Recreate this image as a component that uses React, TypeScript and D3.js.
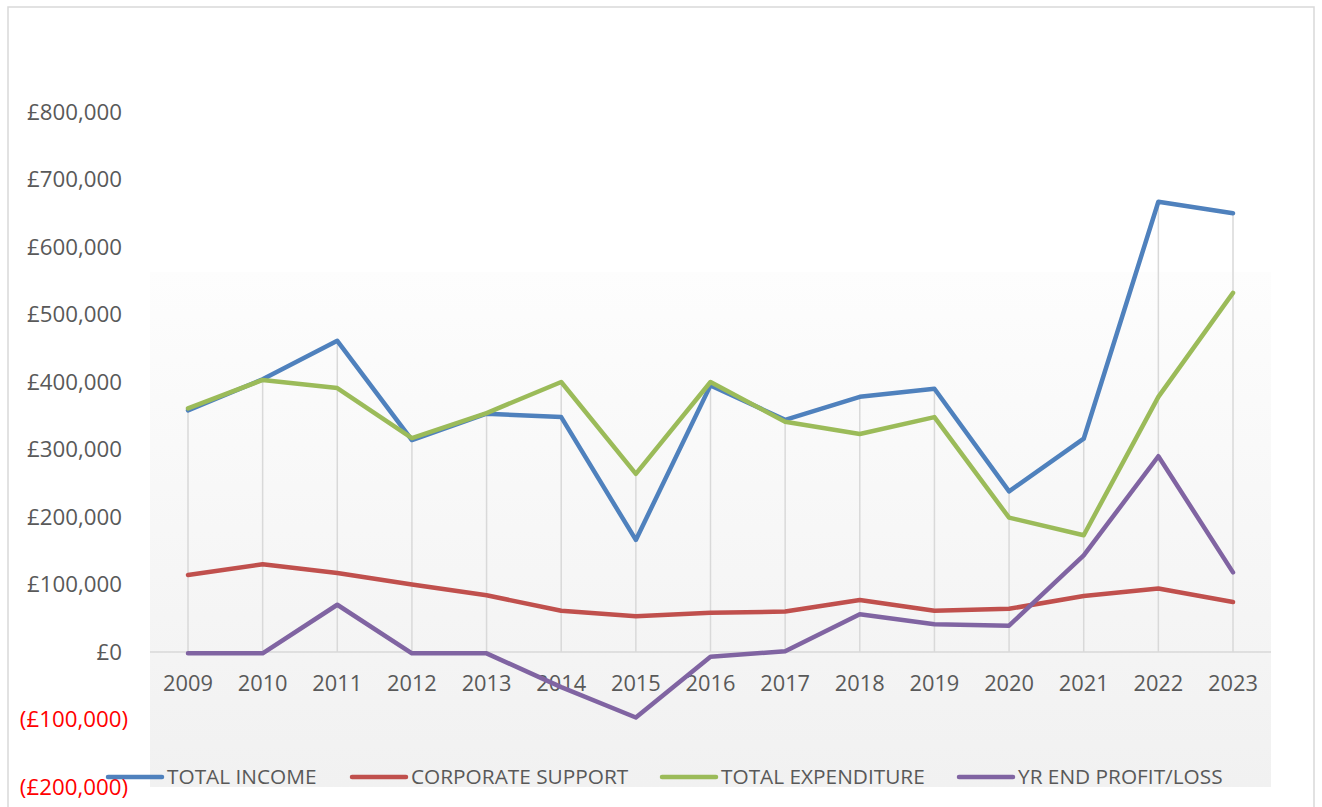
import React from "react";
import * as d3 from "d3";

const years = ["2009","2010","2011","2012","2013","2014","2015","2016","2017","2018","2019","2020","2021","2022","2023"];
const totalIncome = [358000, 404000, 461000, 314000, 353000, 348000, 166000, 395000, 344000, 378000, 390000, 238000, 316000, 667000, 650000];
const corporateSupport = [114000, 130000, 117000, 100000, 84000, 61000, 53000, 58000, 60000, 77000, 61000, 64000, 83000, 94000, 74000];
const totalExpenditure = [361000, 403000, 391000, 317000, 354000, 400000, 264000, 400000, 341000, 323000, 348000, 199000, 173000, 378000, 532000];
const profitLoss = [-2000, -2000, 70000, -2000, -2000, -52000, -97000, -7000, 1000, 56000, 41000, 39000, 143000, 290000, 118000];
const yTicks = [-200000, -100000, 0, 100000, 200000, 300000, 400000, 500000, 600000, 700000, 800000];

const seriesNames = ["TOTAL INCOME", "CORPORATE SUPPORT", "TOTAL EXPENDITURE", "YR END PROFIT/LOSS"];
const seriesColors = ["#4f81bd", "#c0504d", "#9bbb59", "#8064a2"];
const seriesData = [totalIncome, corporateSupport, totalExpenditure, profitLoss];

const W = 1322, H = 807;
const FONT = "'Open Sans', 'Noto Sans', sans-serif";

export default function App() {
  const x = d3.scalePoint<string>().domain(years).range([188, 1233]);
  const y = d3.scaleLinear().domain([-200000, 800000]).range([787, 112]);
  const line = d3.line<number>().x((_, i) => x(years[i]) as number).y((v) => y(v));

  const fmt = (v: number) => {
    const s = "£" + d3.format(",")(Math.abs(v));
    return v < 0 ? "(" + s + ")" : s;
  };

  const legendX = [108, 352, 662, 959];

  return (
    <svg width={W} height={H} style={{ position: "absolute", left: 0, top: 0, background: "#fff" }} fontFamily={FONT}>
      <defs>
        <linearGradient id="pa" x1="0" y1="0" x2="0" y2="1">
          <stop offset="0" stopColor="#fdfdfd" />
          <stop offset="1" stopColor="#f1f1f1" />
        </linearGradient>
      </defs>
      <rect x={8} y={7} width={1306} height={820} fill="#fff" stroke="#d9d9d9" strokeWidth={1.5} />
      <rect x={150} y={272} width={1121} height={515} fill="url(#pa)" />
      {years.map((yr, i) => {
        const mx = Math.max(...seriesData.map((s) => s[i]));
        return <line key={yr} x1={x(yr)} x2={x(yr)} y1={y(mx)} y2={y(0)} stroke="#d9d9d9" strokeWidth={1.5} />;
      })}
      <line x1={150} x2={1271} y1={y(0)} y2={y(0)} stroke="#d9d9d9" strokeWidth={1.5} />
      {yTicks.map((t) => (
        <text key={t} x={t < 0 ? 128 : 122} y={y(t)} dy="0.35em" textAnchor="end" fontSize={22.3}
          fill={t < 0 ? "#ff0000" : "#595959"}>{fmt(t)}</text>
      ))}
      {years.map((yr) => (
        <text key={yr} x={x(yr)} y={683} dy="0.35em" textAnchor="middle" fontSize={21.8} fill="#595959">{yr}</text>
      ))}
      {seriesData.map((s, k) => (
        <path key={k} d={line(s) || ""} fill="none" stroke={seriesColors[k]} strokeWidth={4.5}
          strokeLinejoin="round" strokeLinecap="round" />
      ))}
      {seriesNames.map((n, k) => (
        <g key={n}>
          <line x1={legendX[k]} x2={legendX[k] + 54} y1={777} y2={777} stroke={seriesColors[k]} strokeWidth={4.5} strokeLinecap="round" />
          <text x={legendX[k] + 59} y={777} dy="0.35em" fontSize={20.8} fill="#595959">{n}</text>
        </g>
      ))}
    </svg>
  );
}
